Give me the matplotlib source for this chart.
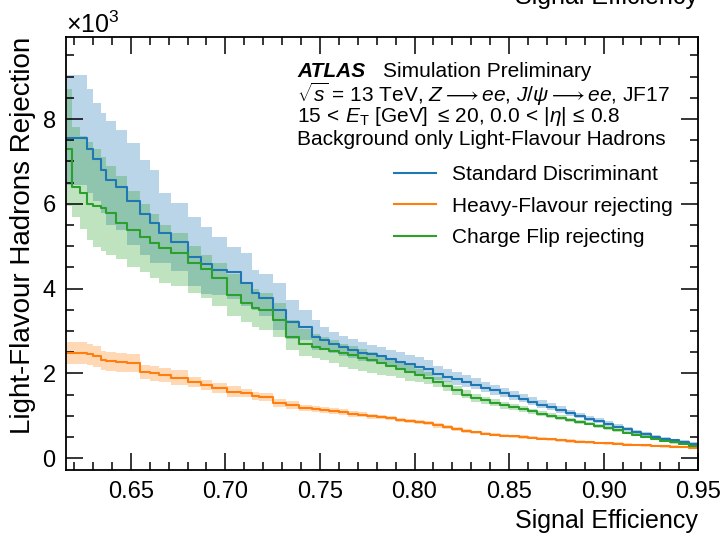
import numpy as np
import matplotlib
matplotlib.use('Agg')
import matplotlib.pyplot as plt
from matplotlib.ticker import MultipleLocator, FormatStrFormatter

plt.rcParams['font.family'] = ['Liberation Sans', 'DejaVu Sans']
plt.rcParams['mathtext.fontset'] = 'custom'
plt.rcParams['mathtext.rm'] = 'Liberation Sans'
plt.rcParams['mathtext.it'] = 'Liberation Sans:italic'
plt.rcParams['mathtext.bf'] = 'Liberation Sans:bold'

# signal efficiency grid
eff = [0.616, 0.619, 0.623, 0.627, 0.630, 0.634, 0.637, 0.642, 0.648, 0.655,
       0.660, 0.665, 0.671, 0.680, 0.687, 0.693, 0.701, 0.708, 0.714, 0.718,
       0.725, 0.732, 0.739, 0.746,
       0.750, 0.755, 0.760, 0.765, 0.770, 0.775, 0.780, 0.785, 0.790, 0.795,
       0.800, 0.805, 0.810, 0.815, 0.820, 0.825, 0.830, 0.835, 0.840, 0.845,
       0.850, 0.855, 0.860, 0.865, 0.870, 0.875, 0.880, 0.885, 0.890, 0.895,
       0.900, 0.905, 0.910, 0.915, 0.920, 0.925, 0.930, 0.935, 0.940, 0.945,
       0.950]

# rejection values in units of 10^3
std_rej = [7.56, 7.56, 7.56, 7.30, 7.06, 6.80, 6.55, 6.40, 6.06, 5.75,
           5.55, 5.31, 5.10, 4.75, 4.58, 4.44, 4.39, 4.13, 3.90, 3.78,
           3.50, 3.21, 3.09, 2.85,
           2.79, 2.70, 2.62, 2.55, 2.49, 2.45, 2.40, 2.34, 2.27, 2.21,
           2.16, 2.10, 1.98, 1.92, 1.86, 1.80, 1.73, 1.66, 1.60, 1.53,
           1.47, 1.40, 1.33, 1.26, 1.20, 1.13, 1.06, 0.99, 0.93, 0.87,
           0.81, 0.74, 0.68, 0.62, 0.56, 0.50, 0.45, 0.42, 0.38, 0.34,
           0.31]
std_hi = [9.04, 9.04, 9.04, 8.70, 8.38, 8.15, 7.95, 7.75, 7.44, 7.04,
          6.80, 6.26, 6.02, 5.69, 5.45, 5.22, 4.98, 4.84, 4.44, 4.35,
          4.13, 3.73, 3.49, 3.25,
          3.09, 2.98, 2.88, 2.80, 2.73, 2.68, 2.62, 2.56, 2.50, 2.44,
          2.38, 2.31, 2.17, 2.10, 2.03, 1.96, 1.88, 1.80, 1.73, 1.65,
          1.59, 1.51, 1.43, 1.36, 1.29, 1.22, 1.14, 1.07, 1.00, 0.94,
          0.88, 0.80, 0.74, 0.67, 0.61, 0.55, 0.50, 0.46, 0.42, 0.38,
          0.35]
std_lo = [6.45, 6.45, 6.45, 6.25, 6.07, 5.79, 5.50, 5.39, 5.02, 4.78,
          4.61, 4.60, 4.41, 4.05, 3.87, 3.85, 3.75, 3.60, 3.49, 3.35,
          3.03, 2.82, 2.79, 2.55,
          2.56, 2.48, 2.41, 2.35, 2.30, 2.26, 2.22, 2.17, 2.10, 2.04,
          1.99, 1.94, 1.84, 1.79, 1.73, 1.68, 1.62, 1.56, 1.50, 1.44,
          1.38, 1.32, 1.25, 1.19, 1.13, 1.07, 1.00, 0.94, 0.88, 0.82,
          0.76, 0.70, 0.64, 0.58, 0.53, 0.47, 0.42, 0.39, 0.35, 0.31,
          0.28]

hf_rej = [2.48, 2.48, 2.48, 2.45, 2.40, 2.31, 2.28, 2.26, 2.24, 2.03,
          2.00, 1.96, 1.90, 1.79, 1.72, 1.65, 1.57, 1.53, 1.47, 1.44,
          1.30, 1.25, 1.19, 1.16,
          1.14, 1.11, 1.08, 1.05, 1.02, 0.99, 0.97, 0.94, 0.90, 0.87,
          0.85, 0.82, 0.77, 0.73, 0.69, 0.64, 0.61, 0.58, 0.55, 0.53,
          0.51, 0.50, 0.48, 0.46, 0.44, 0.42, 0.40, 0.39, 0.37, 0.36,
          0.35, 0.34, 0.32, 0.31, 0.30, 0.29, 0.28, 0.27, 0.26, 0.25,
          0.23]
hf_hi = [2.73, 2.73, 2.73, 2.70, 2.65, 2.53, 2.50, 2.48, 2.46, 2.20,
         2.17, 2.13, 2.07, 1.91, 1.84, 1.77, 1.69, 1.62, 1.56, 1.53,
         1.39, 1.34, 1.26, 1.23,
         1.21, 1.18, 1.15, 1.12, 1.08, 1.05, 1.02, 0.99, 0.95, 0.92,
         0.90, 0.87, 0.82, 0.77, 0.73, 0.68, 0.65, 0.62, 0.59, 0.57,
         0.55, 0.54, 0.52, 0.50, 0.48, 0.46, 0.44, 0.42, 0.40, 0.39,
         0.38, 0.37, 0.35, 0.34, 0.33, 0.32, 0.31, 0.30, 0.29, 0.28,
         0.26]
hf_lo = [2.23, 2.23, 2.23, 2.20, 2.15, 2.09, 2.06, 2.04, 2.02, 1.86,
         1.83, 1.79, 1.73, 1.67, 1.60, 1.53, 1.45, 1.44, 1.38, 1.35,
         1.21, 1.16, 1.12, 1.09,
         1.07, 1.04, 1.01, 0.98, 0.96, 0.93, 0.92, 0.89, 0.85, 0.82,
         0.80, 0.77, 0.72, 0.69, 0.65, 0.60, 0.57, 0.54, 0.51, 0.49,
         0.47, 0.46, 0.44, 0.42, 0.40, 0.38, 0.36, 0.36, 0.34, 0.33,
         0.32, 0.31, 0.29, 0.28, 0.27, 0.26, 0.25, 0.24, 0.23, 0.22,
         0.20]

cf_rej = [7.30, 6.40, 6.25, 6.00, 5.95, 5.90, 5.78, 5.55, 5.38, 5.22,
          5.08, 4.95, 4.84, 4.60, 4.45, 4.25, 3.85, 3.66, 3.55, 3.49,
          3.25, 2.85, 2.70, 2.62,
          2.57, 2.52, 2.47, 2.43, 2.37, 2.31, 2.24, 2.17, 2.10, 2.03,
          1.96, 1.89, 1.79, 1.70, 1.60, 1.50, 1.42, 1.36, 1.30, 1.25,
          1.20, 1.15, 1.10, 1.05, 1.00, 0.95, 0.90, 0.86, 0.81, 0.76,
          0.71, 0.66, 0.60, 0.55, 0.50, 0.46, 0.41, 0.37, 0.33, 0.29,
          0.26]
cf_hi = [8.70, 7.80, 7.60, 7.45, 7.30, 7.10, 6.90, 6.65, 6.30, 6.00,
         5.75, 5.50, 5.30, 5.00, 4.80, 4.60, 4.35, 4.15, 4.00, 3.90,
         3.65, 3.25, 3.05, 2.92,
         2.85, 2.78, 2.70, 2.64, 2.57, 2.50, 2.42, 2.34, 2.26, 2.19,
         2.11, 2.03, 1.92, 1.82, 1.71, 1.60, 1.52, 1.45, 1.39, 1.33,
         1.28, 1.22, 1.17, 1.11, 1.06, 1.01, 0.95, 0.91, 0.86, 0.81,
         0.76, 0.70, 0.64, 0.59, 0.54, 0.49, 0.44, 0.40, 0.36, 0.32,
         0.29]
cf_lo = [5.95, 5.70, 5.40, 5.15, 4.98, 4.88, 4.80, 4.70, 4.51, 4.40,
         4.25, 4.13, 4.05, 3.90, 3.78, 3.60, 3.35, 3.22, 3.10, 3.02,
         2.85, 2.55, 2.40, 2.35,
         2.32, 2.24, 2.16, 2.11, 2.06, 2.01, 1.97, 1.93, 1.88, 1.83,
         1.80, 1.76, 1.67, 1.59, 1.50, 1.41, 1.33, 1.27, 1.22, 1.17,
         1.13, 1.08, 1.04, 0.99, 0.94, 0.90, 0.85, 0.81, 0.77, 0.72,
         0.67, 0.62, 0.57, 0.52, 0.47, 0.43, 0.38, 0.34, 0.30, 0.27,
         0.23]

labels = ['Standard Discriminant', 'Heavy-Flavour rejecting', 'Charge Flip rejecting']
colors = ['#1f77b4', '#ff7f0e', '#2ca02c']
scale = 1e3

fig = plt.figure(figsize=(7.25, 5.33), dpi=100)
ax = fig.add_axes([0.091, 0.118, 0.872, 0.813])

series = [(std_rej, std_lo, std_hi), (hf_rej, hf_lo, hf_hi), (cf_rej, cf_lo, cf_hi)]
for (rej, lo, hi), lab, c in zip(series, labels, colors):
    ax.fill_between(eff, np.array(lo) * scale, np.array(hi) * scale, step='post',
                    color=c, alpha=0.3, lw=0)
    ax.plot(eff, np.array(rej) * scale, drawstyle='steps-post', color=c, lw=1.5, label=lab)

ax.set_xlim(0.6157, 0.95)
ax.set_ylim(-283, 9940)

ax.xaxis.set_major_locator(MultipleLocator(0.05))
ax.xaxis.set_minor_locator(MultipleLocator(0.01))
ax.xaxis.set_major_formatter(FormatStrFormatter('%.2f'))
ax.yaxis.set_major_locator(MultipleLocator(2000))
ax.yaxis.set_minor_locator(MultipleLocator(500))
ax.ticklabel_format(axis='y', style='sci', scilimits=(3, 3), useMathText=True)
ax.yaxis.get_offset_text().set_fontsize(18)

ax.tick_params(which='both', direction='in', top=True, right=True, labelsize=17, width=1.1)
ax.tick_params(which='major', length=12)
ax.tick_params(which='minor', length=6)
ax.tick_params(axis='x', pad=8)
ax.tick_params(axis='y', pad=7)
for sp in ax.spines.values():
    sp.set_linewidth(1.3)

ax.set_xlabel('Signal Efficiency', fontsize=18, loc='right')
ax.set_ylabel('Light-Flavour Hadrons Rejection', fontsize=20, loc='top')

tx = 0.3655
ax.text(tx, 0.919, 'ATLAS', transform=ax.transAxes, fontsize=15,
        fontweight='bold', fontstyle='italic', va='center')
ax.text(0.5016, 0.919, 'Simulation Preliminary', transform=ax.transAxes,
        fontsize=15, va='center')
ax.text(tx, 0.866,
        r'$\sqrt{s}$ = 13 TeV, $Z\longrightarrow ee$, $J/\psi\longrightarrow ee$, JF17',
        transform=ax.transAxes, fontsize=15, va='center')
ax.text(tx, 0.815,
        r'$15\,<\,E_{\mathrm{T}}$ [GeV] $\leq\,20$, $0.0\,<\,|\eta|\,\leq\,0.8$',
        transform=ax.transAxes, fontsize=15, va='center')
ax.text(tx, 0.764, 'Background only Light-Flavour Hadrons', transform=ax.transAxes,
        fontsize=15, va='center')

ax.legend(loc='upper right', bbox_to_anchor=(0.99, 0.747), frameon=False,
          fontsize=15, handlelength=2.0, labelspacing=0.6)

# leftover axis label of the plot above, cut by the top edge
fig.text(0.962, 1 - 4 / 533, 'Signal Efficiency', fontsize=18, ha='right', va='baseline')

fig.savefig('out.png', dpi=100)
